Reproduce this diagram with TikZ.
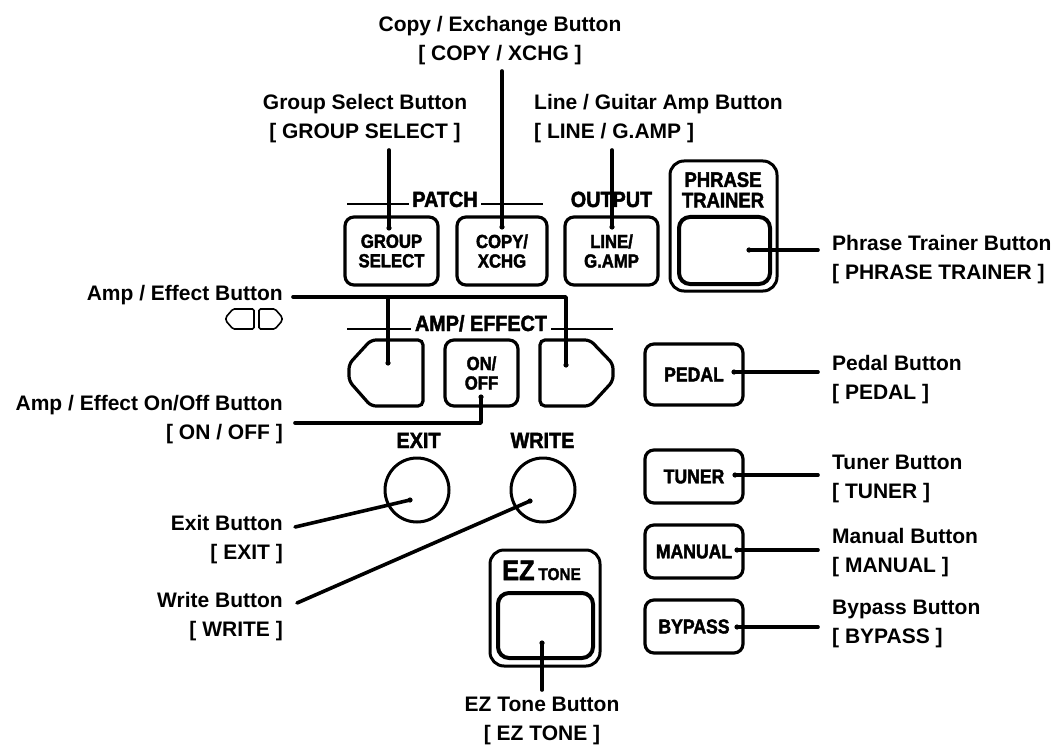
\documentclass[tikz,border=0pt]{standalone}
\usepackage{fontspec}
\setmainfont{Liberation Sans}
\newfontfamily\hdfont[FakeStretch=0.9,FakeBold=2]{Liberation Sans Bold}
\newfontfamily\btnfont[FakeStretch=0.88,FakeBold=2]{Liberation Sans Bold}
\begin{document}
\begin{tikzpicture}[x=1pt,y=-1pt,
  lbl/.style={font=\bfseries\fontsize{21}{29}\selectfont, inner sep=0pt},
  hd/.style={font=\hdfont\fontsize{22}{22}\selectfont, inner sep=0pt},
  btn/.style={draw, line width=3.2pt, rounded corners=9pt, font=\btnfont\fontsize{19}{19.5}\selectfont, align=center, inner sep=0pt},
  frameb/.style={draw, line width=3pt, rounded corners=14pt, inner sep=0pt},
  innerb/.style={draw, line width=4pt, rounded corners=11pt, inner sep=0pt},
  shapeb/.style={line width=3.2pt, rounded corners=5pt},
  lead/.style={line width=3.6pt, line cap=round, line join=round},
  pin/.style={fill=black},
  rulel/.style={line width=2.8pt}
]
\useasboundingbox (0,0) rectangle (1059,751);

% ---------- PATCH / OUTPUT row ----------
\draw[rulel] (347,204) -- (543,204);
\node[hd, fill=white, inner xsep=3pt, inner ysep=2pt, anchor=base] (patch) at (445,207) {PATCH};
\node[hd, anchor=base] (output) at (611.5,207) {OUTPUT};
\node[btn, minimum width=93pt, minimum height=68pt] (group) at (391.5,251) {GROUP\\SELECT};
\node[btn, minimum width=90pt, minimum height=68pt] (copy) at (502,251) {COPY/\\XCHG};
\node[btn, minimum width=93pt, minimum height=68pt] (lineamp) at (611.5,251) {LINE/\\G.AMP};

% ---------- Phrase trainer ----------
\node[frameb, minimum width=107pt, minimum height=130pt] (ptframe) at (723.5,226) {};
\node[innerb, minimum width=91pt, minimum height=67pt] (pt) at (724.5,250.5) {};
\node[font=\btnfont\fontsize{21}{20.5}\selectfont, align=center, inner sep=0pt, anchor=north] (pttext) at (723,172) {PHRASE\\TRAINER};

% ---------- AMP / EFFECT row ----------
\draw[rulel] (347,329) -- (613,329);
\node[hd, fill=white, inner xsep=4pt, inner ysep=2pt, anchor=base] (ampeff) at (481,331) {AMP/ EFFECT};
\draw[shapeb] (400,340) -- (423,340) -- (423,406) -- (371,406) -- (349,381) -- (349,364) -- (371,340) -- cycle;
\draw[shapeb] (565,340) -- (590,340) -- (613,364) -- (613,381) -- (590,406) -- (540,406) -- (540,340) -- cycle;
\node[btn, minimum width=73pt, minimum height=66pt] (onoff) at (481.5,373) {ON/\\OFF};

% ---------- EXIT / WRITE ----------
\node[hd, anchor=base] (exittxt) at (418.5,448) {EXIT};
\node[hd, anchor=base] (writetxt) at (542.5,448) {WRITE};
\node[draw, circle, line width=3pt, minimum size=64pt, inner sep=0pt] (exit) at (417,490) {};
\node[draw, circle, line width=3pt, minimum size=64pt, inner sep=0pt] (write) at (543,490) {};

% ---------- EZ TONE ----------
\node[frameb, minimum width=110pt, minimum height=116pt] (ezframe) at (545,608) {};
\node[innerb, minimum width=95pt, minimum height=65pt] (ez) at (545.5,625.5) {};
\node[anchor=base, inner sep=0pt] (eztxt) at (541.5,580) {\hdfont\fontsize{28}{28}\selectfont EZ\hspace{4pt}\fontsize{17}{17}\selectfont TONE};

% ---------- Right column ----------
\node[btn, font=\btnfont\fontsize{20}{20}\selectfont, minimum width=98pt, minimum height=61pt] (pedal) at (694,374.5) {PEDAL};
\node[btn, font=\btnfont\fontsize{20}{20}\selectfont, minimum width=98pt, minimum height=53pt] (tuner) at (694,476.5) {TUNER};
\node[btn, font=\btnfont\fontsize{20}{20}\selectfont, minimum width=98pt, minimum height=53pt] (manual) at (694,551.5) {MANUAL};
\node[btn, font=\btnfont\fontsize{20}{20}\selectfont, minimum width=98pt, minimum height=53pt] (bypass) at (694,626.5) {BYPASS};

% ---------- Labels ----------
\node[lbl, align=center, anchor=north] (lcopy) at (500,16) {Copy / Exchange Button\\{[} COPY / XCHG ]};
\node[lbl, align=center, anchor=north] (lgroup) at (365,94) {Group Select Button\\{[} GROUP SELECT ]};
\node[lbl, align=left, anchor=north west] (lline) at (534,94) {Line / Guitar Amp Button\\{[} LINE / G.AMP ]};
\node[lbl, align=left, anchor=north west] (lphrase) at (832,235) {Phrase Trainer Button\\{[} PHRASE TRAINER ]};
\node[lbl, align=left, anchor=north west] (lpedal) at (832,355) {Pedal Button\\{[} PEDAL ]};
\node[lbl, align=left, anchor=north west] (ltuner) at (832,455) {Tuner Button\\{[} TUNER ]};
\node[lbl, align=left, anchor=north west] (lmanual) at (832,528) {Manual Button\\{[} MANUAL ]};
\node[lbl, align=left, anchor=north west] (lbypass) at (832,600) {Bypass Button\\{[} BYPASS ]};
\node[lbl, anchor=north east] (lamp) at (283,285) {Amp / Effect Button};
\node[lbl, align=right, anchor=north east] (lonoff) at (283,395) {Amp / Effect On/Off Button\\{[} ON / OFF ]};
\node[lbl, align=right, anchor=north east] (lexit) at (283,515) {Exit Button\\{[} EXIT ]};
\node[lbl, align=right, anchor=north east] (lwrite) at (283,592) {Write Button\\{[} WRITE ]};
\node[lbl, align=center, anchor=north] (lez) at (542,697) {EZ Tone Button\\{[} EZ TONE ]};

% small symbol under Amp / Effect Button
\draw[line width=1.6pt, rounded corners=1.5pt] (243,309) -- (254,309) -- (254,329) -- (233,329) -- (226,321) -- (226,317) -- (233,309) -- cycle;
\draw[line width=1.6pt, rounded corners=1.5pt] (259,319) -- (259,309) -- (275,309) -- (282,317) -- (282,321) -- (275,329) -- (259,329) -- cycle;

% ---------- Leader coordinates ----------
\coordinate (cT) at (502,71);   \coordinate (cB) at (502,227);
\coordinate (gT) at (389,150);  \coordinate (gB) at (389,228);
\coordinate (oT) at (612,150);  \coordinate (oB) at (612,227);
\coordinate (aL) at (293,297);  \coordinate (aM) at (388,297);
\coordinate (aR) at (566,297);  \coordinate (aLB) at (388,363);
\coordinate (aRB) at (566,365);
\coordinate (nL) at (295,423);  \coordinate (nC) at (481,423); \coordinate (nB) at (481,397);
\coordinate (xL) at (295,527);  \coordinate (xB) at (410,500);
\coordinate (wL) at (297,603);  \coordinate (wB) at (530,501);
\coordinate (eB) at (542,643);  \coordinate (eL) at (542,690);
\coordinate (pB) at (749,250);  \coordinate (pL) at (818,250);
\coordinate (dB) at (734,372);  \coordinate (dL) at (818,372);
\coordinate (tB) at (735,475);  \coordinate (tL) at (818,475);
\coordinate (mB) at (737,550);  \coordinate (mL) at (818,550);
\coordinate (bB) at (737,627);  \coordinate (bL) at (818,627);

% ---------- Leaders ----------
\draw[lead] (cT) -- (cB);
\draw[lead] (gT) -- (gB);
\draw[lead] (oT) -- (oB);
\draw[lead] (aL) -- (aR) -- (aRB);
\draw[lead] (aM) -- (aLB);
\draw[lead] (nL) -- (nC) -- (nB);
\draw[lead] (xL) -- (xB);
\draw[lead] (wL) -- (wB);
\draw[lead] (eB) -- (eL);
\draw[lead] (pB) -- (pL);
\draw[lead] (dB) -- (dL);
\draw[lead] (tB) -- (tL);
\draw[lead] (mB) -- (mL);
\draw[lead] (bB) -- (bL);
\foreach \p in {cB,gB,oB,aLB,aRB,nB,xB,wB,eB,pB,dB,tB,mB,bB} \fill[pin] (\p) circle (2.6pt);
\end{tikzpicture}
\end{document}
